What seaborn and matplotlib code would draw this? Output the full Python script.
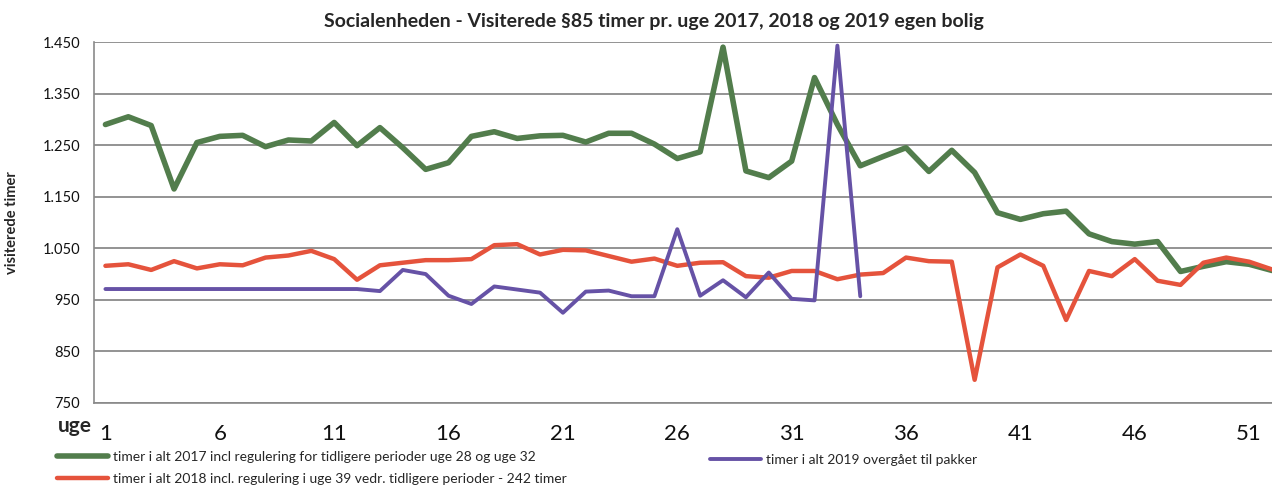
import matplotlib
matplotlib.use("Agg")
import matplotlib.pyplot as plt
import seaborn as sns
from matplotlib.lines import Line2D
from matplotlib.ticker import FixedLocator, FuncFormatter

# ---- data ----
weeks = list(range(1, 53))
hours_2017 = [1290, 1305, 1288, 1165, 1255, 1267, 1269, 1247, 1260, 1258,
              1294, 1249, 1284, 1245, 1203, 1216, 1267, 1276, 1263, 1268,
              1269, 1256, 1273, 1273, 1252, 1224, 1237, 1440, 1200, 1187,
              1219, 1381, 1290, 1210, 1228, 1245, 1199, 1240, 1197, 1119,
              1106, 1117, 1122, 1078, 1063, 1058, 1063, 1005, 1015, 1024,
              1019, 1007]
hours_2018 = [1016, 1019, 1008, 1025, 1011, 1019, 1017, 1032, 1036, 1045,
              1029, 989, 1017, 1022, 1027, 1027, 1029, 1056, 1058, 1038,
              1047, 1046, 1035, 1024, 1030, 1016, 1022, 1023, 996, 993,
              1006, 1006, 990, 999, 1002, 1032, 1025, 1024, 795, 1013,
              1038, 1016, 911, 1006, 996, 1029, 987, 979, 1022, 1032,
              1024, 1009]
weeks_2019 = list(range(1, 35))
hours_2019 = [971, 971, 971, 971, 971, 971, 971, 971, 971, 971,
              971, 971, 967, 1008, 1000, 958, 942, 976, 970, 964,
              925, 966, 968, 957, 957, 1087, 958, 988, 955, 1003,
              952, 949, 1443, 957]

labels = ["timer i alt 2017 incl regulering for tidligere perioder uge 28 og uge 32",
          "timer i alt 2018 incl. regulering i uge 39 vedr. tidligere perioder - 242 timer",
          "timer i alt 2019 overgået til pakker"]
colors = ["#527D4C", "#E5533C", "#6652A6"]
title = "Socialenheden - Visiterede §85 timer pr. uge 2017, 2018 og 2019 egen bolig"
xtick_labels = [1, 6, 11, 16, 21, 26, 31, 36, 41, 46, 51]
ytick_values = [750, 850, 950, 1050, 1150, 1250, 1350, 1450]

sns.set_style("white")
plt.rcParams["font.family"] = ["Lato", "DejaVu Sans"]

fig = plt.figure(figsize=(12.72, 4.87), dpi=100)
ax = fig.add_axes([94 / 1272, 1 - 403 / 487, 1 - 94 / 1272, (403 - 42) / 487])

widths = [4.0, 3.2, 2.8]
sns.lineplot(x=weeks, y=hours_2017, ax=ax, color=colors[0], linewidth=widths[0],
             solid_joinstyle="round", solid_capstyle="round", legend=False)
sns.lineplot(x=weeks, y=hours_2018, ax=ax, color=colors[1], linewidth=widths[1],
             solid_joinstyle="round", solid_capstyle="round", legend=False)
sns.lineplot(x=weeks_2019, y=hours_2019, ax=ax, color=colors[2], linewidth=widths[2],
             solid_joinstyle="round", solid_capstyle="round", legend=False)

ax.set_xlim(0.5, 52.0)
ax.set_ylim(750, 1450)
ax.yaxis.set_major_locator(FixedLocator(ytick_values))
ax.yaxis.set_major_formatter(FuncFormatter(lambda v, p: f"{v:,.0f}".replace(",", ".")))
ax.xaxis.set_major_locator(FixedLocator(xtick_labels))
ax.xaxis.set_minor_locator(FixedLocator([w + 0.5 for w in range(0, 52)]))
ax.tick_params(axis="x", which="major", length=0, labelsize=16, pad=15, colors="#111111")
ax.tick_params(axis="x", which="minor", length=5, width=0.8, color="#888888", direction="out")
ax.tick_params(axis="y", which="major", length=4, width=1, color="#888888",
               labelsize=10.5, pad=6, labelcolor="#111111")
ax.grid(axis="y", color="#8a8a8a", linewidth=1.3)
ax.grid(axis="x", visible=False)
for side in ["top", "right"]:
    ax.spines[side].set_visible(False)
for side in ["left", "bottom"]:
    ax.spines[side].set_color("#8a8a8a")
    ax.spines[side].set_linewidth(1.2)

ax.set_ylabel("visiterede timer", fontsize=10.5, fontweight="bold")
ax.yaxis.set_label_coords(-0.064, 0.5)
fig.text(58 / 1272, 1 - 426 / 487, "uge", fontsize=15, fontweight="bold", va="center", ha="left")
fig.text(654 / 1272, 1 - 22 / 487, title, fontsize=14, fontweight="bold", ha="center", va="center")

proxies = [Line2D([], [], color=c, linewidth=w, solid_capstyle="round")
           for c, w in zip(colors, widths)]
leg_kw = dict(loc="upper left", bbox_transform=fig.transFigure, frameon=False,
              fontsize=10, handlelength=3.7, handletextpad=0.3,
              labelspacing=0.7, borderpad=0, borderaxespad=0)
leg1 = ax.legend(proxies[:2], labels[:2], bbox_to_anchor=(57 / 1272, 1 - 451 / 487), **leg_kw)
ax.add_artist(leg1)
ax.legend(proxies[2:], labels[2:], bbox_to_anchor=(710 / 1272, 1 - 454 / 487), **leg_kw)

fig.savefig("out.png", dpi=100)
